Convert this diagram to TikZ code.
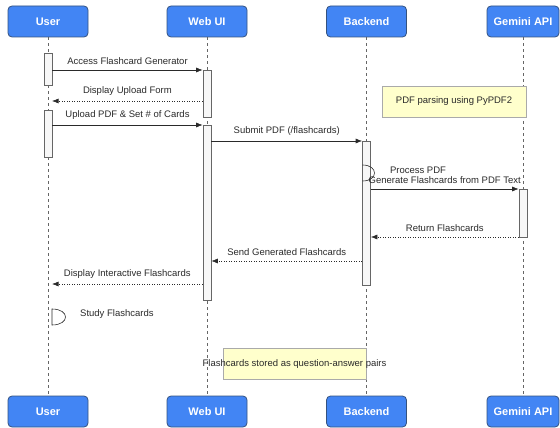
\documentclass[tikz,border=0pt]{standalone}
\usepackage{fontspec}
\setmainfont{Liberation Sans}
\usetikzlibrary{arrows.meta}
\definecolor{hdrblue}{HTML}{4285F4}
\definecolor{hdrline}{HTML}{34527F}
\definecolor{notefill}{HTML}{FFFFCC}
\definecolor{noteline}{HTML}{AAAAAA}
\definecolor{ink}{HTML}{2A2A2A}
\definecolor{lifegray}{HTML}{666666}
\begin{document}
\begin{tikzpicture}[x=1pt,y=-1pt,
 hdr/.style={draw=hdrline, fill=hdrblue, rounded corners=4pt, minimum width=80pt, minimum height=31pt, text=white, font=\fontsize{11}{13}\selectfont\bfseries, inner sep=0pt, line width=0.8pt},
 life/.style={draw=lifegray, dash pattern=on 3pt off 3pt, line width=0.6pt},
 act/.style={draw=lifegray, fill=gray!6, minimum width=8pt, inner sep=0pt, line width=0.6pt},
 msg/.style={draw=ink, line width=0.6pt, -{Latex[length=6.5pt,width=5pt]}},
 ret/.style={msg, dash pattern=on 1.2pt off 1.3pt},
 lbl/.style={text=ink, font=\fontsize{9.5}{11}\selectfont, inner sep=0pt},
 note/.style={draw=noteline, fill=notefill, line width=0.6pt, inner sep=0pt, minimum height=31pt},
 selfloop/.style={draw=ink, line width=0.6pt},
]
\useasboundingbox (0,0) rectangle (560,428);
% headers
\node[hdr] (uT) at (48,21.5) {User};
\node[hdr] (wT) at (207,21.5) {Web UI};
\node[hdr] (bT) at (366.5,21.5) {Backend};
\node[hdr, minimum width=72pt] (gT) at (523,21.5) {Gemini API};
\node[hdr] (uB) at (48,411.5) {User};
\node[hdr] (wB) at (207,411.5) {Web UI};
\node[hdr] (bB) at (366.5,411.5) {Backend};
\node[hdr, minimum width=72pt] (gB) at (523,411.5) {Gemini API};
% lifelines
\draw[life] (uT.south) -- (uB.north);
\draw[life] (wT.south) -- (wB.north);
\draw[life] (bT.south) -- (bB.north);
\draw[life] (gT.south) -- (gB.north);
% notes
\node[note, minimum width=144pt, lbl] (n1) at (454,101.5) {PDF parsing using PyPDF2};
\node[note, minimum width=143pt] (n2) at (294.5,364) {};
\node[lbl] (n2t) at (n2) {Flashcards stored as question-answer pairs};
% activations
\node[act, minimum height=32pt] (ua1) at (48,69.5) {};
\node[act, minimum height=47pt] (ua2) at (48,133.5) {};
\node[act, minimum height=47pt] (wa1) at (207,93.5) {};
\node[act, minimum height=175pt] (wa2) at (207,212.5) {};
\node[act, minimum height=144pt] (ba) at (366.5,213) {};
\node[act, minimum height=48pt] (ga) at (523,213) {};
% y levels
\coordinate (y1) at (0,70);
\coordinate (y2) at (0,101);
\coordinate (y3) at (0,125);
\coordinate (y4) at (0,141);
\coordinate (y6) at (0,189);
\coordinate (y7) at (0,237);
\coordinate (y8) at (0,261);
\coordinate (y9) at (0,284);
\coordinate (uR2) at (52,101);
\coordinate (uR9) at (52,284);
% messages
\draw[msg] (ua1.east |- y1) -- node[lbl, above=5pt] {Access Flashcard Generator} (wa1.west |- y1);
\draw[ret] (wa1.west |- y2) -- node[lbl, above=5pt] {Display Upload Form} (uR2);
\draw[msg] (ua2.east |- y3) -- node[lbl, above=5pt] {Upload PDF \& Set \# of Cards} (wa2.west |- y3);
\draw[msg] (wa2.east |- y4) -- node[lbl, above=5pt] {Submit PDF (/flashcards)} (ba.west |- y4);
\coordinate (p1) at (362.5,165);
\coordinate (p2) at (362.5,181);
\draw[selfloop] (p1) .. controls (378.5,165) and (378.5,181) .. (p2);
\node[lbl] (plbl) at (418,170) {Process PDF};
\draw[msg] (ba.east |- y6) -- node[lbl, above=5pt] {Generate Flashcards from PDF Text} (ga.west |- y6);
\draw[ret] (ga.west |- y7) -- node[lbl, above=5pt] {Return Flashcards} (ba.east |- y7);
\draw[ret] (ba.west |- y8) -- node[lbl, above=5pt] {Send Generated Flashcards} (wa2.east |- y8);
\draw[ret] (wa2.west |- y9) -- node[lbl, above=5pt] {Display Interactive Flashcards} (uR9);
\coordinate (s1) at (52,309);
\coordinate (s2) at (52,325);
\draw[selfloop] (s1) .. controls (70,309) and (70,325) .. (s2) -- cycle;
\node[lbl, anchor=west] (slbl) at (80,314) {Study Flashcards};
\end{tikzpicture}
\end{document}
